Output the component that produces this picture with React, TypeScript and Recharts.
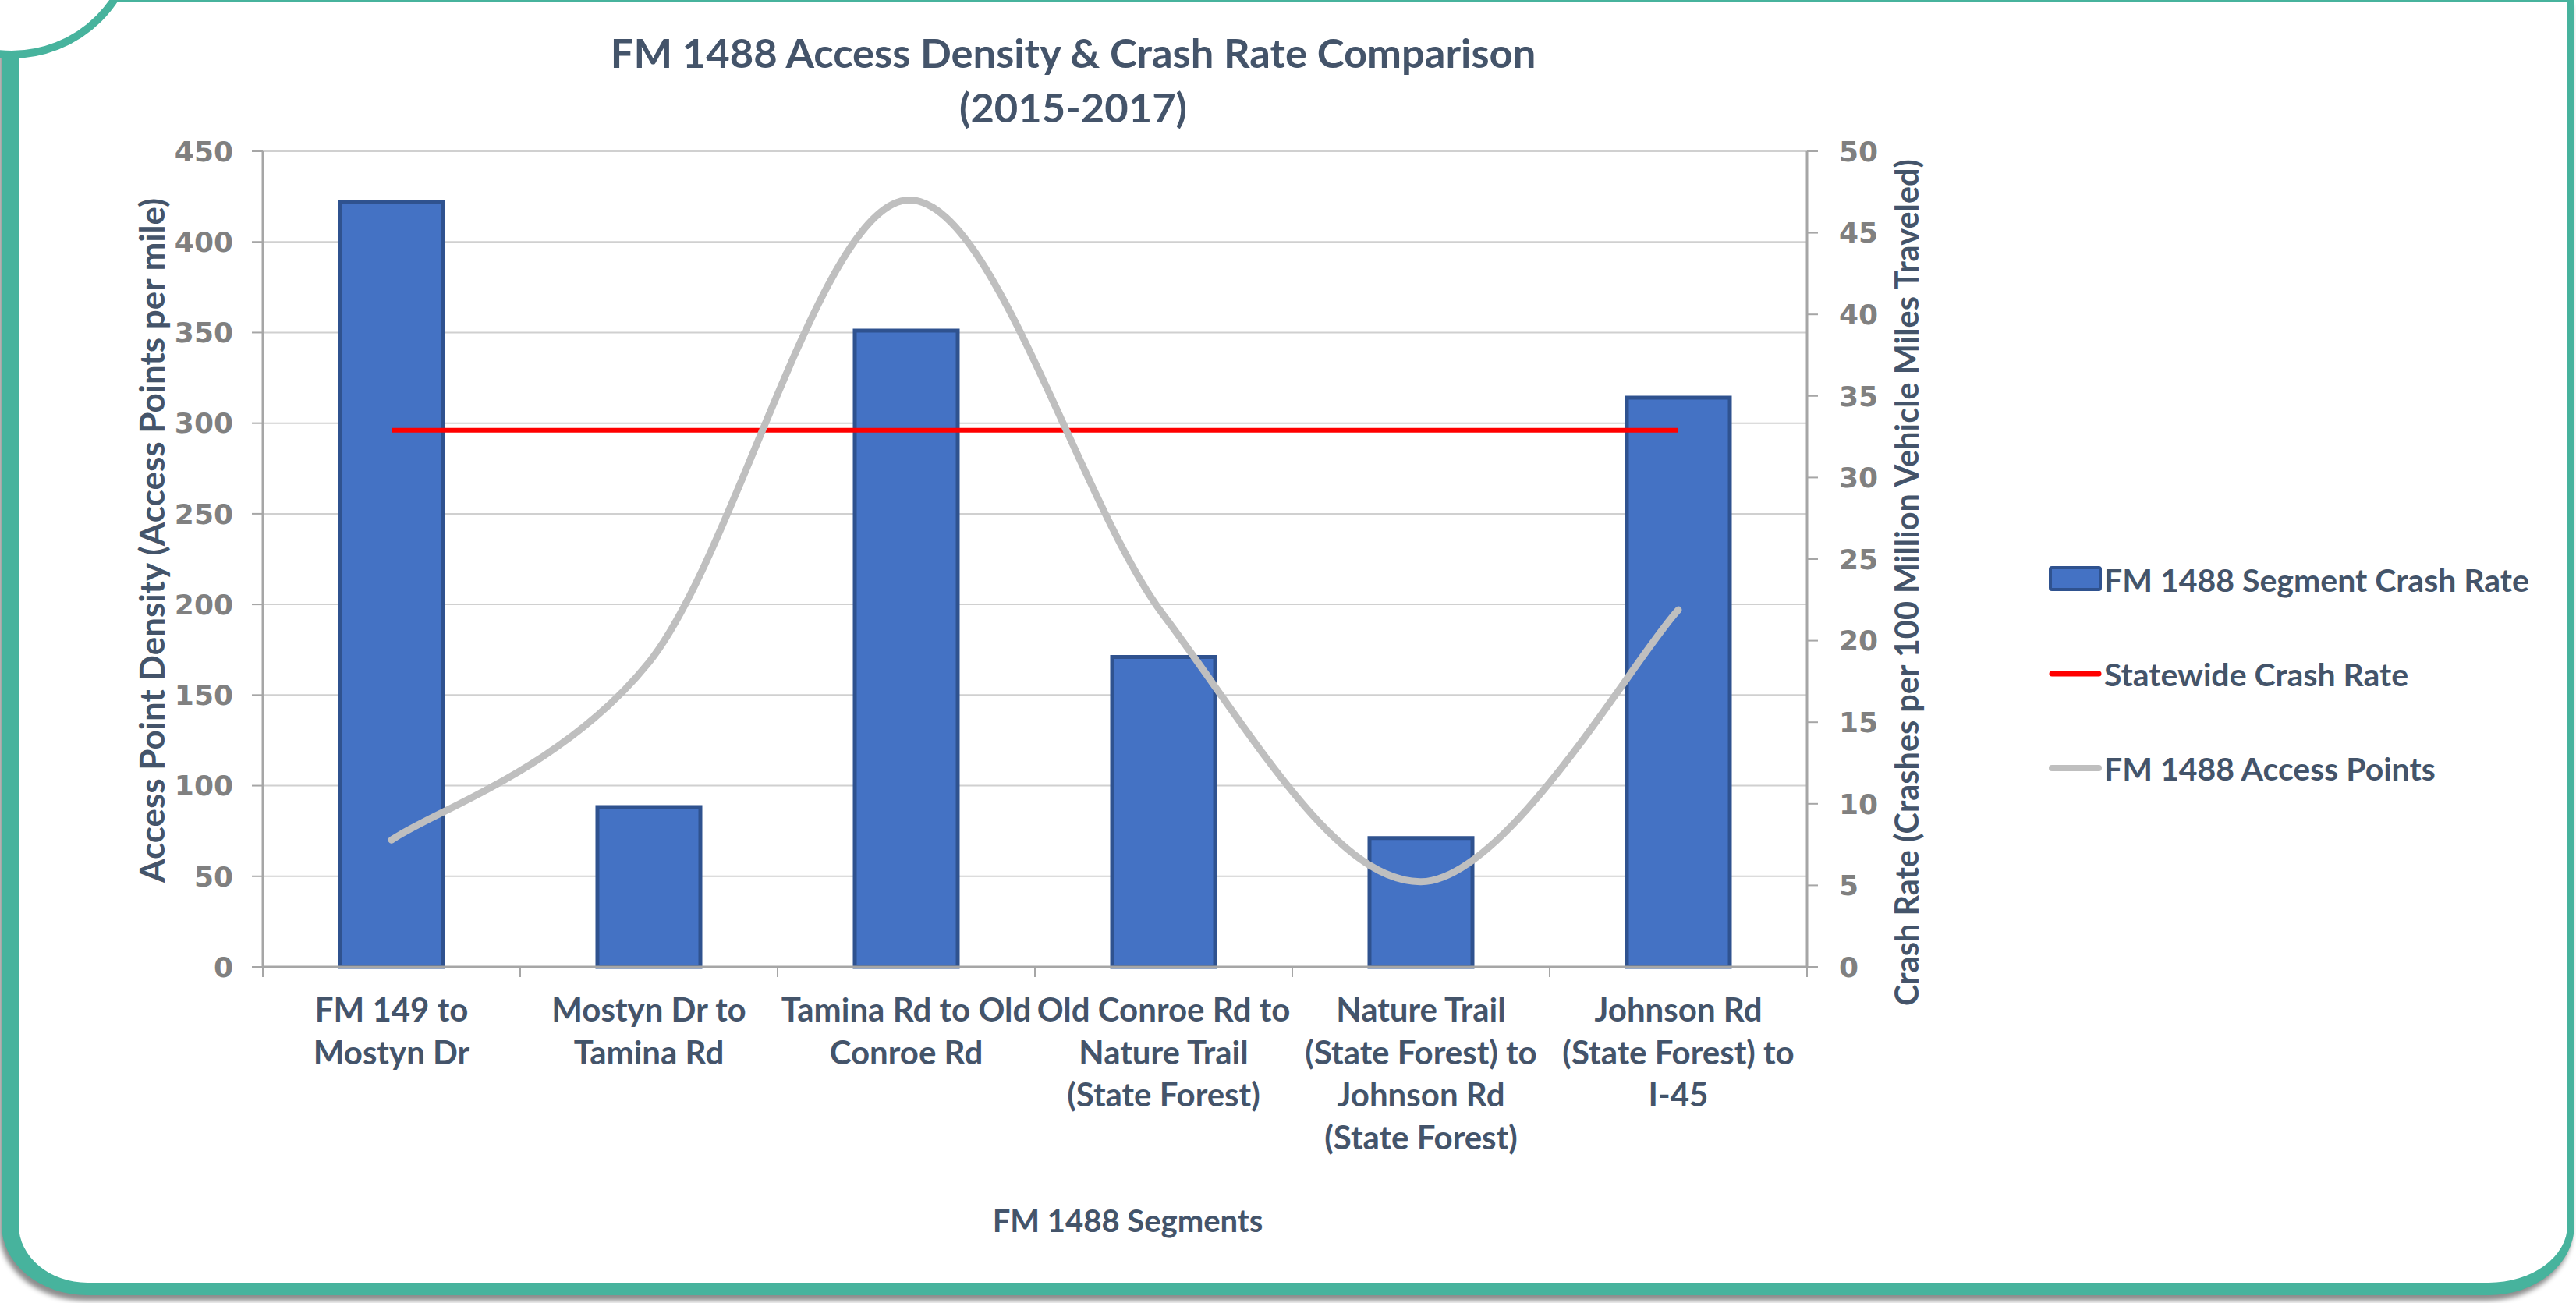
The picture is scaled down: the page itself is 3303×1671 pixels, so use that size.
import React from 'react'
import { ComposedChart, Bar, Line, XAxis, YAxis, CartesianGrid, Legend, Label } from 'recharts'

const segments = [
  'FM 149 to Mostyn Dr',
  'Mostyn Dr to Tamina Rd',
  'Tamina Rd to Old Conroe Rd',
  'Old Conroe Rd to Nature Trail (State Forest)',
  'Nature Trail (State Forest) to Johnson Rd (State Forest)',
  'Johnson Rd (State Forest) to I-45',
]
const segmentLines = [
  ['FM 149 to', 'Mostyn Dr'],
  ['Mostyn Dr to', 'Tamina Rd'],
  ['Tamina Rd to Old', 'Conroe Rd'],
  ['Old Conroe Rd to', 'Nature Trail', '(State Forest)'],
  ['Nature Trail', '(State Forest) to', 'Johnson Rd', '(State Forest)'],
  ['Johnson Rd', '(State Forest) to', 'I-45'],
]
const segmentCrashRate = [46.9, 9.8, 39.0, 19.0, 7.9, 34.9]
const statewideCrashRate = [32.9, 32.9, 32.9, 32.9, 32.9, 32.9]
const accessPoints = [70, 168, 423, 194, 47, 197]
const densityTicks = [0, 50, 100, 150, 200, 250, 300, 350, 400, 450]
const rateTicks = [0, 5, 10, 15, 20, 25, 30, 35, 40, 45, 50]
const seriesNames = ['FM 1488 Segment Crash Rate', 'Statewide Crash Rate', 'FM 1488 Access Points']

const data = segments.map((segment, i) => ({
  segment,
  crashRate: segmentCrashRate[i],
  statewide: statewideCrashRate[i],
  access: accessPoints[i],
}))

const W = 3303
const H = 1671
const MARGIN = { top: 194, right: 166, bottom: 131, left: 137 }
const Y_W = 200
const LEGEND_W = 620
const PLOT_W = W - MARGIN.left - MARGIN.right - Y_W * 2 - LEGEND_W
const BAND = PLOT_W / segments.length

const TEAL = '#47B39D'
const AXIS = '#A6A6A6'
const TEXT = '#44546A'
const SANS = 'Lato, "Open Sans", sans-serif'
const TICK_STYLE = { fill: '#808080', fontSize: 36, fontFamily: '"DejaVu Sans"', fontWeight: 700 }

// Excel-style smoothed line (bezier through every point)
const excelSmooth = (context: any) => {
  let pts: number[][] = []
  return {
    areaStart() {},
    areaEnd() {},
    lineStart() {
      pts = []
    },
    lineEnd() {
      if (!pts.length) return
      context.moveTo(pts[0][0], pts[0][1])
      for (let i = 0; i < pts.length - 1; i++) {
        const p0 = pts[i - 1] || pts[i]
        const p1 = pts[i]
        const p2 = pts[i + 1]
        const p3 = pts[i + 2] || p2
        context.bezierCurveTo(
          p1[0] + (p2[0] - p0[0]) / 6,
          p1[1] + (p2[1] - p0[1]) / 6,
          p2[0] - (p3[0] - p1[0]) / 6,
          p2[1] - (p3[1] - p1[1]) / 6,
          p2[0],
          p2[1]
        )
      }
    },
    point(x: number, y: number) {
      pts.push([x, y])
    },
  }
}

const SegmentTick = (props: any) => {
  const { x, y, payload } = props
  const idx = segments.indexOf(payload.value)
  const lines = segmentLines[idx] || []
  const half = BAND / 2
  return (
    <g>
      <line x1={x - half} y1={y} x2={x - half} y2={y + 13} stroke={AXIS} strokeWidth={2} />
      {idx === segments.length - 1 && (
        <line x1={x + half} y1={y} x2={x + half} y2={y + 13} stroke={AXIS} strokeWidth={2} />
      )}
      <text textAnchor="middle" fill={TEXT} fontFamily={SANS} fontWeight={700} fontSize={42}>
        {lines.map((l, i) => (
          <tspan key={i} x={x} y={y + 70 + i * 54.5}>
            {l}
          </tspan>
        ))}
      </text>
    </g>
  )
}

const axisTitle = (text: string, dx: number, dy: number, size: number) => (props: any) => {
  const vb = props.viewBox || {}
  const cx = vb.x + dx
  const cy = vb.y + vb.height / 2 + dy
  return (
    <text
      x={cx}
      y={cy}
      transform={`rotate(-90, ${cx}, ${cy})`}
      textAnchor="middle"
      dominantBaseline="central"
      fill={TEXT}
      fontFamily={SANS}
      fontWeight={700}
      fontSize={size}
    >
      {text}
    </text>
  )
}

const xTitle = (props: any) => {
  const vb = props.viewBox || {}
  return (
    <text
      x={vb.x + vb.width / 2 + 119}
      y={vb.y + 340}
      textAnchor="middle"
      fill={TEXT}
      fontFamily={SANS}
      fontWeight={700}
      fontSize={40}
    >
      FM 1488 Segments
    </text>
  )
}

const renderLegend = (props: any) => {
  const items = [...(props.payload || [])].sort(
    (a: any, b: any) => seriesNames.indexOf(a.value) - seriesNames.indexOf(b.value)
  )
  return (
    <div style={{ display: 'flex', flexDirection: 'column', gap: 61 }}>
      {items.map((item: any) => (
        <div key={item.value} style={{ display: 'flex', alignItems: 'center', height: 60 }}>
          <svg width={70} height={36} style={{ marginRight: 1 }}>
            {item.type === 'rect' ? (
              <rect x={2} y={3} width={64} height={28} fill="#4472C4" stroke="#2F528F" strokeWidth={4} rx={2} />
            ) : (
              <line x1={4} y1={18} x2={64} y2={18} stroke={item.color} strokeWidth={item.color === '#FF0000' ? 7 : 8} strokeLinecap="round" />
            )}
          </svg>
          <span style={{ fontFamily: SANS, fontWeight: 700, fontSize: 41, color: TEXT, whiteSpace: 'nowrap' }}>
            {item.value}
          </span>
        </div>
      ))}
    </div>
  )
}

export default function App() {
  return (
    <div style={{ position: 'absolute', left: 0, top: 0, width: W, height: H, background: '#fff', overflow: 'hidden' }}>
      <div
        style={{
          position: 'absolute',
          left: 2,
          top: 0,
          width: W - 4,
          height: 1661,
          boxSizing: 'border-box',
          borderStyle: 'solid',
          borderColor: TEAL,
          borderWidth: '3px 9px 16px 22px',
          borderRadius: '0 0 110px 110px / 0 0 90px 90px',
          boxShadow: '-3px 7px 6px rgba(0,0,0,0.45)',
          background: '#fff',
        }}
      />
      <svg width={220} height={140} style={{ position: 'absolute', left: 0, top: 0 }}>
        <circle cx={15} cy={-88} r={158} fill="#fff" stroke={TEAL} strokeWidth={10} />
      </svg>
      <div
        style={{
          position: 'absolute',
          left: 1376 - 800,
          top: 32,
          width: 1600,
          textAlign: 'center',
          fontFamily: SANS,
          fontWeight: 700,
          fontSize: 52.5,
          lineHeight: '70px',
          color: TEXT,
        }}
      >
        FM 1488 Access Density &amp; Crash Rate Comparison
        <br />
        (2015-2017)
      </div>
      <div style={{ position: 'absolute', left: 0, top: 0 }}>
        <ComposedChart width={W} height={H} data={data} margin={MARGIN} barSize={132}>
          <CartesianGrid yAxisId="left" vertical={false} stroke="#D0D0D0" strokeWidth={2} />
          <XAxis
            dataKey="segment"
            interval={0}
            height={300}
            tickLine={false}
            tickSize={0}
            tickMargin={0}
            axisLine={{ stroke: AXIS, strokeWidth: 3 }}
            tick={<SegmentTick />}
          >
            <Label content={xTitle} />
          </XAxis>
          <YAxis
            yAxisId="left"
            domain={[0, 450]}
            ticks={densityTicks}
            width={Y_W}
            tickSize={14}
            tickMargin={24}
            axisLine={{ stroke: AXIS, strokeWidth: 3 }}
            tickLine={{ stroke: AXIS, strokeWidth: 2 }}
            tick={TICK_STYLE}
          >
            <Label content={axisTitle('Access Point Density (Access Points per mile)', 57, -24, 44)} />
          </YAxis>
          <YAxis
            yAxisId="right"
            orientation="right"
            domain={[0, 50]}
            ticks={rateTicks}
            width={Y_W}
            tickSize={14}
            tickMargin={27}
            axisLine={{ stroke: AXIS, strokeWidth: 3 }}
            tickLine={{ stroke: AXIS, strokeWidth: 2 }}
            tick={TICK_STYLE}
          >
            <Label content={axisTitle('Crash Rate (Crashes per 100 Million Vehicle Miles Traveled)', 127, 30, 41.5)} />
          </YAxis>
          <Legend
            layout="vertical"
            align="right"
            verticalAlign="middle"
            width={LEGEND_W}
            content={renderLegend}
            wrapperStyle={{ left: 2627, top: 713, right: 'auto', bottom: 'auto', width: LEGEND_W }}
          />
          <Bar
            yAxisId="right"
            dataKey="crashRate"
            name={seriesNames[0]}
            fill="#4472C4"
            stroke="#2F528F"
            strokeWidth={5}
            legendType="rect"
            isAnimationActive={false}
          />
          <Line
            yAxisId="right"
            dataKey="statewide"
            name={seriesNames[1]}
            stroke="#FF0000"
            strokeWidth={6}
            dot={false}
            activeDot={false}
            legendType="line"
            isAnimationActive={false}
          />
          <Line
            yAxisId="left"
            dataKey="access"
            name={seriesNames[2]}
            type={excelSmooth as any}
            stroke="#BFBFBF"
            strokeWidth={9}
            strokeLinecap="round"
            dot={false}
            activeDot={false}
            legendType="line"
            isAnimationActive={false}
          />
        </ComposedChart>
      </div>
    </div>
  )
}
